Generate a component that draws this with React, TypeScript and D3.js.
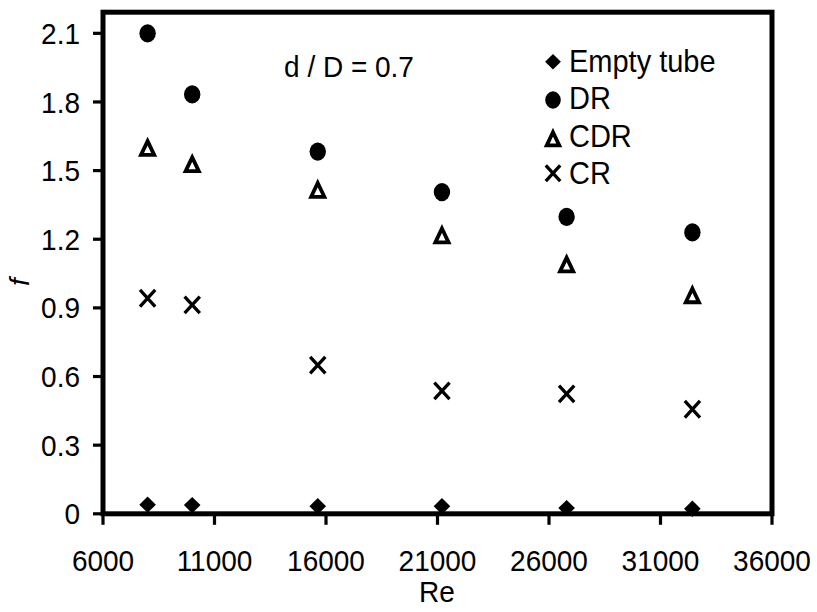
import React from "react";
import * as d3 from "d3";

const reynolds = [8000, 10000, 15630, 21200, 26790, 32430];
const emptyTube = [0.04, 0.038, 0.033, 0.033, 0.025, 0.022];
const drValues = [2.1, 1.833, 1.583, 1.406, 1.298, 1.23];
const cdrValues = [1.6, 1.529, 1.417, 1.218, 1.091, 0.956];
const crValues = [0.942, 0.913, 0.65, 0.537, 0.524, 0.457];
const xTicks = [6000, 11000, 16000, 21000, 26000, 31000, 36000];
const yTicks = [0, 0.3, 0.6, 0.9, 1.2, 1.5, 1.8, 2.1];
const yTickLabels = ["0", "0.3", "0.6", "0.9", "1.2", "1.5", "1.8", "2.1"];
const legendLabels = ["Empty tube", "DR", "CDR", "CR"];
const annotation = "d / D = 0.7";

const W = 817;
const H = 612;
const left = 103;
const right = 772;
const top = 12.2;
const bottom = 513.8;
const FONT = "'Liberation Sans', Arial, sans-serif";

const x = d3.scaleLinear().domain([6000, 36000]).range([left, right]);
const y = d3.scaleLinear().domain([0, (bottom - top) / 228.8]).range([bottom, top]);

type MarkerKind = "diamond" | "circle" | "triangle" | "cross";

function Marker({ kind, cx, cy, s = 1 }: { kind: MarkerKind; cx: number; cy: number; s?: number }) {
  if (kind === "diamond") {
    const p = d3.path();
    p.moveTo(cx, cy - 8.2 * s);
    p.lineTo(cx + 8.3 * s, cy);
    p.lineTo(cx, cy + 8.2 * s);
    p.lineTo(cx - 8.3 * s, cy);
    p.closePath();
    return <path d={p.toString()} fill="#000" />;
  }
  if (kind === "circle") {
    return <ellipse cx={cx} cy={cy} rx={8.2 * s} ry={9.1 * s} fill="#000" />;
  }
  if (kind === "triangle") {
    const p = d3.path();
    p.moveTo(cx, cy - 6.6 * s);
    p.lineTo(cx + 6.6 * s, cy + 7.2 * s);
    p.lineTo(cx - 6.6 * s, cy + 7.2 * s);
    p.closePath();
    return <path d={p.toString()} fill="#fff" stroke="#000" strokeWidth={3.8} strokeLinejoin="miter" />;
  }
  const p = d3.path();
  p.moveTo(cx - 7.6 * s, cy - 8.3 * s);
  p.lineTo(cx + 7.6 * s, cy + 8.3 * s);
  p.moveTo(cx + 7.6 * s, cy - 8.3 * s);
  p.lineTo(cx - 7.6 * s, cy + 8.3 * s);
  return <path d={p.toString()} fill="none" stroke="#000" strokeWidth={3.3} />;
}

const seriesList: { kind: MarkerKind; values: number[] }[] = [
  { kind: "diamond", values: emptyTube },
  { kind: "circle", values: drValues },
  { kind: "triangle", values: cdrValues },
  { kind: "cross", values: crValues },
];

export default function App() {
  const legendTextX = 569;
  const legendBase = [71.7, 109.3, 146.7, 184.3];
  const legendMarkerY = [61.7, 100, 138.5, 173.3];
  return (
    <svg
      width={W}
      height={H}
      viewBox={`0 0 ${W} ${H}`}
      style={{ position: "absolute", left: 0, top: 0, background: "#fff" }}
      fontFamily={FONT}
    >
      <rect x={0} y={0} width={W} height={H} fill="#fff" />
      {yTicks.map((t, i) => (
        <g key={"yt" + i}>
          <line x1={left - 10} x2={left} y1={y(t)} y2={y(t)} stroke="#000" strokeWidth={3.2} />
          <text
            transform={`translate(80,${y(t)}) scale(1,1.05)`}
            dy="0.36em"
            textAnchor="end"
            fontSize={28}
            fill="#000"
          >
            {yTickLabels[i]}
          </text>
        </g>
      ))}
      {xTicks.map((t, i) => (
        <g key={"xt" + i}>
          <line x1={x(t)} x2={x(t)} y1={bottom} y2={bottom + 11} stroke="#000" strokeWidth={3.2} />
          <text
            transform={`translate(${x(t)},571) scale(1,1.05)`}
            textAnchor="middle"
            fontSize={28}
            fill="#000"
          >
            {t}
          </text>
        </g>
      ))}
      <rect
        x={left}
        y={top}
        width={right - left}
        height={bottom - top}
        fill="none"
        stroke="#000"
        strokeWidth={5}
      />
      {seriesList.map((s, si) =>
        s.values.map((v, i) => (
          <Marker key={`m${si}-${i}`} kind={s.kind} cx={x(reynolds[i])} cy={y(v)} />
        ))
      )}
      <text
        transform="translate(349,76.5) scale(1,1.05)"
        textAnchor="middle"
        fontSize={28}
        fill="#000"
      >
        {annotation}
      </text>
      {seriesList.map((s, i) => (
        <g key={"lg" + i}>
          <Marker kind={s.kind} cx={553} cy={legendMarkerY[i]} s={0.95} />
          <text
            transform={`translate(${legendTextX},${legendBase[i]}) scale(1,1.1)`}
            fontSize={29}
            fill="#000"
          >
            {legendLabels[i]}
          </text>
        </g>
      ))}
      <text
        transform="translate(437,602) scale(1,1.05)"
        textAnchor="middle"
        fontSize={28}
        fill="#000"
      >
        Re
      </text>
      <text
        transform={`translate(29,282) rotate(-90)`}
        textAnchor="middle"
        fontSize={28}
        fontStyle="italic"
        fill="#000"
      >
        f
      </text>
    </svg>
  );
}
